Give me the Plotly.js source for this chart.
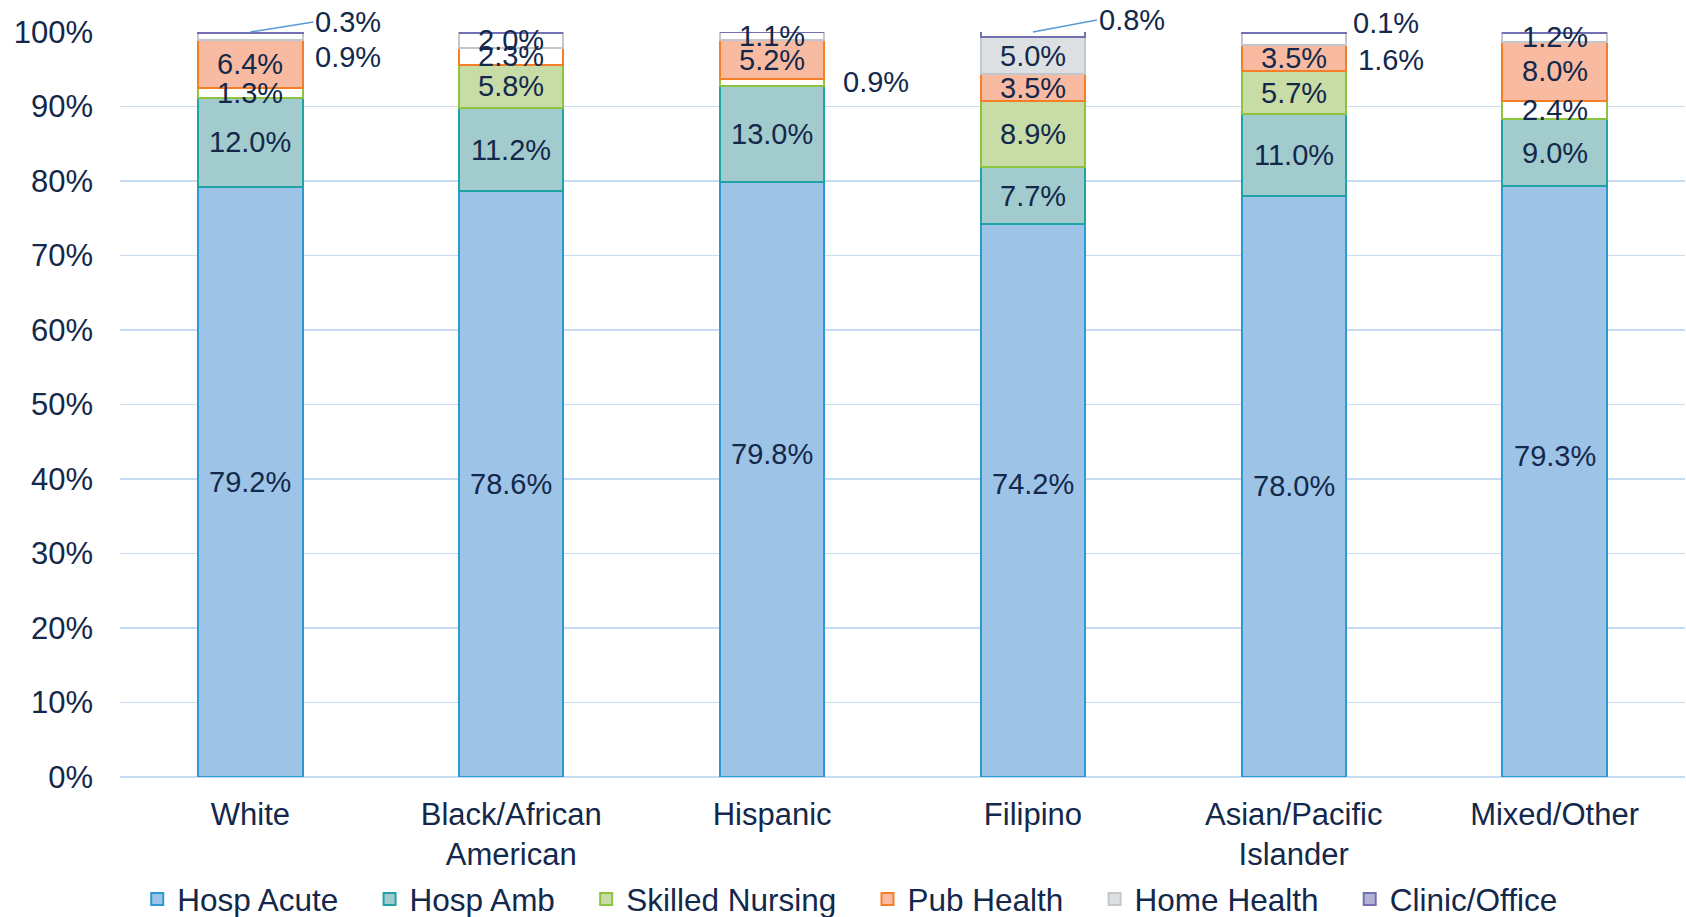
<!DOCTYPE html>
<html>
<head>
<meta charset="utf-8">
<script src="https://cdn.plot.ly/plotly-3.0.1.min.js"></script>
<style>
html,body{margin:0;padding:0;background:#fff;}
#chart{width:1686px;height:917px;}
</style>
</head>
<body>
<div id="chart"></div>
<script>
// ---- Data ----
const categories = ['White', 'Black/African<br>American', 'Hispanic', 'Filipino', 'Asian/Pacific<br>Islander', 'Mixed/Other'];
const seriesNames = ['Hosp Acute', 'Hosp Amb', 'Skilled Nursing', 'Pub Health', 'Home Health', 'Clinic/Office'];
const hospAcute   = [79.2, 78.6, 79.8, 74.2, 78.0, 79.3];
const hospAmb     = [12.0, 11.2, 13.0, 7.7, 11.0, 9.0];
const skilledNurs = [1.3, 5.8, 0.9, 8.9, 5.7, 2.4];
const pubHealth   = [6.4, 2.3, 5.2, 3.5, 3.5, 8.0];
const homeHealth  = [0.9, 2.0, 1.1, 5.0, 1.6, 1.2];
const clinicOff   = [0.3, 0.0, 0.0, 0.8, 0.1, 0.0];
const yTickVals   = [0,10,20,30,40,50,60,70,80,90,100];
const yTickText   = ['0%','10%','20%','30%','40%','50%','60%','70%','80%','90%','100%'];

// ---- Styles ----
const allSeries = [hospAcute, hospAmb, skilledNurs, pubHealth, homeHealth, clinicOff];
const fills = ['#9DC3E6', '#A2CBCE', '#C7DCA6', '#F8BBA1', '#DDE0E3', '#B3B2D6'];
const edges = ['#2B9AD3', '#1FA3A6', '#8DC43F', '#F47F26', '#C3C7CB', '#7270B3'];
const thinFill = '#FFFFFF';      // very thin segments render with a white interior
const thinLimit = 3;
const textColor = '#13284B';
const fontFam = '"Liberation Sans", Arial, sans-serif';
const legendPad = '\u00a0\u00a0\u00a0';

// labels drawn outside the bar: [seriesIndex, categoryIndex, xshift, yshift, withLeader]
const outsideLabels = [
  [5, 0, 63, 10, true],
  [4, 0, 63, -20, false],
  [2, 2, 69, 0, false],
  [5, 3, 64, 12, true],
  [5, 4, 57, 10, false],
  [4, 4, 62, -21, false]
];
// inside labels nudged vertically: [seriesIndex, categoryIndex, yshift]
const nudgedLabels = [
  [0, 2, 26],
  [0, 3, 17],
  [0, 5, 26]
];

// bar traces (legend handled by companion entries so icons keep the series fill)
const traces = allSeries.map((vals, s) => ({
  type: 'bar',
  name: seriesNames[s],
  legendgroup: 'g' + s,
  showlegend: false,
  x: categories,
  y: vals,
  cliponaxis: false,
  marker: {
    color: vals.map(v => v < thinLimit ? thinFill : fills[s]),
    line: {color: edges[s], width: 2}
  },
  hoverinfo: 'skip'
}));
// legend entries
seriesNames.forEach((nm, s) => {
  traces.push({
    type: 'bar',
    name: nm + (s < seriesNames.length - 1 ? legendPad : ''),
    legendgroup: 'g' + s,
    showlegend: true,
    x: [categories[0]],
    y: [null],
    marker: {color: fills[s], line: {color: edges[s], width: 2}},
    hoverinfo: 'skip'
  });
});

// data labels as annotations
const annotations = [];
const labelFont = {family: fontFam, size: 29, color: textColor};
allSeries.forEach((vals, s) => {
  vals.forEach((v, c) => {
    if (!(v > 0)) return;
    let base = 0;
    for (let k = 0; k < s; k++) base += allSeries[k][c];
    const txt = v.toFixed(1) + '%';
    const out = outsideLabels.find(o => o[0] === s && o[1] === c);
    if (out) {
      const [, , xs, ys, leader] = out;
      if (leader) {
        annotations.push({
          x: categories[c], y: Math.min(base + v, 100), xref: 'x', yref: 'y',
          text: txt, showarrow: true, arrowhead: 0, arrowwidth: 1.5, arrowcolor: '#5B9BD5',
          ax: xs, ay: -ys, xanchor: 'left', yanchor: 'middle',
          font: labelFont, standoff: 0, startstandoff: 0
        });
      } else {
        annotations.push({
          x: categories[c], y: base + v / 2, xref: 'x', yref: 'y',
          text: txt, showarrow: false, xshift: xs, yshift: ys,
          xanchor: 'left', yanchor: 'middle', font: labelFont
        });
      }
      return;
    }
    const nudge = nudgedLabels.find(n => n[0] === s && n[1] === c);
    annotations.push({
      x: categories[c], y: base + v / 2, xref: 'x', yref: 'y',
      text: txt, showarrow: false, yshift: nudge ? nudge[2] : 0,
      xanchor: 'center', yanchor: 'middle', font: labelFont
    });
  });
});

const layout = {
  width: 1686, height: 917,
  barmode: 'stack',
  bargap: 0.6,
  paper_bgcolor: '#ffffff',
  plot_bgcolor: '#ffffff',
  margin: {l: 120, r: 1, t: 32, b: 140},
  font: {family: fontFam, size: 30, color: textColor},
  xaxis: {
    type: 'category',
    tickfont: {family: fontFam, size: 31, color: textColor},
    showgrid: false, showline: false, ticks: '',
    ticklabelstandoff: 16
  },
  yaxis: {
    range: [0, 100],
    tickvals: yTickVals, ticktext: yTickText,
    tickfont: {family: fontFam, size: 31, color: textColor},
    showgrid: true, gridcolor: '#C7DBF2', gridwidth: 1.5,
    zeroline: true, zerolinecolor: '#C7DBF2', zerolinewidth: 1.5,
    showline: false, ticks: '',
    ticklabelstandoff: 26
  },
  legend: {
    orientation: 'h',
    xref: 'paper', x: 0.011, xanchor: 'left',
    yref: 'container', y: 0.049, yanchor: 'top',
    bgcolor: 'rgba(0,0,0,0)',
    font: {family: fontFam, size: 31.5, color: textColor},
    traceorder: 'normal',
    itemclick: false, itemdoubleclick: false
  },
  showlegend: true,
  annotations: annotations
};

Plotly.newPlot('chart', traces, layout, {displayModeBar: false, staticPlot: true});
</script>
</body>
</html>
